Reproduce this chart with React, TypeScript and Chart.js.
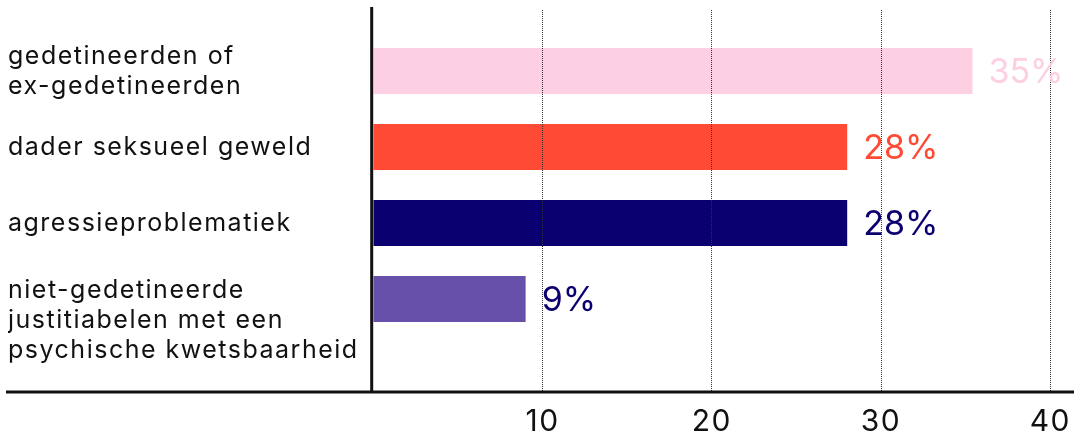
import React, { useEffect, useRef } from 'react';
import { Chart, registerables } from 'chart.js';

Chart.register(...registerables);

const categories: string[][] = [
  ['gedetineerden of', 'ex-gedetineerden'],
  ['dader seksueel geweld'],
  ['agressieproblematiek'],
  ['niet-gedetineerde', 'justitiabelen met een', 'psychische kwetsbaarheid'],
];
const values: number[] = [35.4, 28, 28, 9];
const valueLabels: string[] = ['35%', '28%', '28%', '9%'];
const barColors: string[] = ['#fdcfe3', '#ff4b35', '#0b006f', '#6750aa'];
const labelColors: string[] = ['#fdcfe3', '#ff4b35', '#0b006f', '#0b006f'];
const xTicks: number[] = [10, 20, 30, 40];

const FONT = 'Inter, "Noto Sans", sans-serif';
// vertical placement of each category label (in index units)
const labelPositions: number[] = [0, 1, 2, 3.28];

export default function App() {
  const ref = useRef<HTMLCanvasElement | null>(null);

  useEffect(() => {
    if (!ref.current) return;

    const spacingPlugin = {
      id: 'spacing',
      beforeUpdate(chart: any) {
        chart.ctx.letterSpacing = '1.5px';
      },
      beforeDraw(chart: any) {
        chart.ctx.letterSpacing = '1.5px';
      },
    };

    const axesPlugin = {
      id: 'axesLines',
      afterDraw(chart: any) {
        const { ctx, chartArea } = chart;
        ctx.save();
        ctx.strokeStyle = '#111';
        ctx.lineWidth = 3;
        ctx.beginPath();
        ctx.moveTo(chartArea.left - 1.6, 7);
        ctx.lineTo(chartArea.left - 1.6, chartArea.bottom);
        ctx.stroke();
        ctx.beginPath();
        ctx.moveTo(6, chartArea.bottom);
        ctx.lineTo(chart.width, chartArea.bottom);
        ctx.stroke();
        ctx.restore();
      },
    };

    const valuePlugin = {
      id: 'valueLabels',
      afterDraw(chart: any) {
        const { ctx } = chart;
        const meta = chart.getDatasetMeta(0);
        ctx.save();
        ctx.letterSpacing = '0px';
        ctx.font = `34px ${FONT}`;
        ctx.textAlign = 'left';
        ctx.textBaseline = 'middle';
        meta.data.forEach((bar: any, i: number) => {
          ctx.fillStyle = labelColors[i];
          ctx.fillText(valueLabels[i], bar.x + 16, bar.y + 1.5);
        });
        ctx.restore();
      },
    };

    const chart = new Chart(ref.current, {
      type: 'bar',
      data: {
        datasets: [
          {
            data: values.map((v, i) => ({ x: v, y: i })) as any,
            backgroundColor: barColors,
            borderWidth: 0,
            barPercentage: 1,
            categoryPercentage: 0.605,
          },
        ],
      },
      options: {
        indexAxis: 'y',
        animation: false,
        responsive: false,
        maintainAspectRatio: false,
        layout: { padding: { left: 8, top: 10, right: 0, bottom: 0 } },
        plugins: {
          legend: { display: false },
          tooltip: { enabled: false },
        },
        scales: {
          x: {
            type: 'linear',
            position: 'bottom',
            z: 1,
            min: 0,
            max: 41.4,
            offset: false,
            afterBuildTicks: (scale: any) => {
              scale.ticks = xTicks.map((v) => ({ value: v }));
            },
            afterFit: (scale: any) => {
              scale.height = 42;
              scale.paddingLeft = 0;
              scale.paddingRight = 0;
            },
            grid: {
              color: '#333',
              lineWidth: 1,
              drawTicks: false,
              offset: false,
              z: 1,
            },
            border: { display: false, dash: [1, 1] },
            ticks: {
              color: '#111',
              font: { family: FONT, size: 30 },
              padding: 12,
              maxRotation: 0,
              autoSkip: false,
            },
          },
          y: {
            type: 'linear',
            reverse: true,
            offset: false,
            min: -0.803,
            max: 4.224,
            afterBuildTicks: (scale: any) => {
              scale.ticks = labelPositions.map((v) => ({ value: v }));
            },
            afterFit: (scale: any) => {
              scale.width = 365.3;
              scale.paddingTop = 0;
              scale.paddingBottom = 0;
            },
            grid: { display: false, drawTicks: false, offset: false },
            border: { display: false },
            ticks: {
              autoSkip: false,
              crossAlign: 'far',
              color: '#111',
              font: { family: FONT, size: 25, lineHeight: 1.2 },
              callback: (value: any) => categories[Math.round(Number(value))],
            },
          },
        },
      },
      plugins: [spacingPlugin, axesPlugin, valuePlugin],
    } as any);

    return () => chart.destroy();
  }, []);

  return (
    <div style={{ position: 'absolute', left: 0, top: 0, width: 1074, height: 434 }}>
      <canvas ref={ref} width={1074} height={434} style={{ width: 1074, height: 434 }} />
    </div>
  );
}
